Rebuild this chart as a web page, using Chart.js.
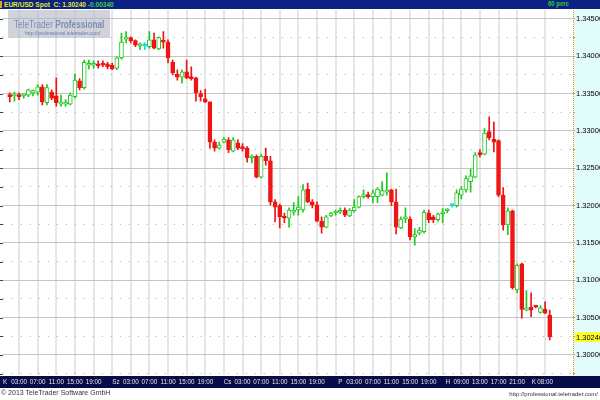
<!DOCTYPE html>
<html>
<head>
<meta charset="utf-8">
<script src="https://cdn.jsdelivr.net/npm/chart.js@4.4.1/dist/chart.umd.min.js"></script>
<style>
  html, body { margin: 0; padding: 0; background: #fff; }
  #wrap { position: relative; width: 600px; height: 400px; overflow: hidden; font-family: 'Liberation Sans', Arial, sans-serif; }
  #chart { position: absolute; left: 0; top: 0; }
  #topbar { position: absolute; left: 0; top: 0; width: 600px; height: 9px; background: #0b2282; z-index: 2; }
  #topbar .mark { position: absolute; left: 0; top: 1px; width: 2px; height: 7px; background: #e8a020; }
  #topbar .title { position: absolute; left: 4px; top: 0; line-height: 9px; font: bold 8px 'Liberation Sans', sans-serif; color: #e6e61e; white-space: nowrap; transform: scaleX(0.82); transform-origin: left top; }
  #topbar .chg { color: #3ed23e; }
  #topbar .period { position: absolute; left: 548px; top: 0; line-height: 9px; font: bold 7px 'Liberation Sans', sans-serif; color: #30d030; white-space: nowrap; transform: scaleX(0.85); transform-origin: left top; }
  #logo { position: absolute; left: 8px; top: 10px; width: 102px; height: 28px; background: rgba(176, 182, 196, 0.6); z-index: 2; }
  #logo .name { position: absolute; left: 6px; top: 9px; font: 10px 'Liberation Sans', sans-serif; color: #7d8bb4; line-height: 11px; white-space: nowrap; transform: scaleX(0.82); transform-origin: left top; }
  #logo .name b { font-weight: bold; }
  #logo .url { position: absolute; left: 17px; top: 20px; font: 6px 'Liberation Sans', sans-serif; color: #6a78a6; line-height: 7px; white-space: nowrap; transform: scaleX(0.85); transform-origin: left top; }
  #copy { position: absolute; left: 1px; top: 389px; font: 7px 'Liberation Sans', sans-serif; color: #333; white-space: nowrap; }
  #site { position: absolute; right: 2px; top: 391px; font: 6px 'Liberation Sans', sans-serif; color: #333; white-space: nowrap; }
</style>
</head>
<body>
<div id="wrap">
  <canvas id="chart" width="600" height="400"></canvas>
  <div id="topbar"><div class="mark"></div><div class="title">EUR/USD Spot &nbsp;C: 1.30240 <span class="chg">-0.00340</span></div><div class="period">60 perc</div></div>
  <div id="logo"><div class="name">TeleTrader <b>Professional</b></div><div class="url">http://professional.teletrader.com/</div></div>
  <div id="copy">© 2013 TeleTrader Software GmbH</div>
  <div id="site">http://professional.teletrader.com/</div>
</div>
<script>
// EUR/USD 60 perces gyertyák (open, high, low, close)
const open = [
  1.3348, 1.3347, 1.3348, 1.3347, 1.3348, 1.3351, 1.3352, 1.3359, 1.3338, 1.3352,
  1.3347, 1.3336, 1.3336, 1.3336, 1.3346, 1.3367, 1.3358, 1.3388, 1.3388, 1.3390,
  1.3390, 1.3390, 1.3388, 1.3384, 1.3398, 1.3423, 1.3425, 1.3421, 1.3414, 1.3414,
  1.3413, 1.3422, 1.3410, 1.3421, 1.3419, 1.3392, 1.3376, 1.3372, 1.3379, 1.3372,
  1.3371, 1.3350, 1.3343, 1.3339, 1.3285, 1.3277, 1.3285, 1.3288, 1.3273, 1.3284,
  1.3279, 1.3277, 1.3264, 1.3266, 1.3238, 1.3266, 1.3260, 1.3205, 1.3200, 1.3186,
  1.3183, 1.3191, 1.3194, 1.3194, 1.3222, 1.3205, 1.3201, 1.3179, 1.3171, 1.3186,
  1.3190, 1.3191, 1.3194, 1.3186, 1.3193, 1.3198, 1.3212, 1.3214, 1.3212, 1.3212,
  1.3214, 1.3218, 1.3221, 1.3205, 1.3170, 1.3182, 1.3182, 1.3158, 1.3163, 1.3165,
  1.3190, 1.3185, 1.3181, 1.3189, 1.3193, 1.3200, 1.3200, 1.3214, 1.3221, 1.3232,
  1.3238, 1.3271, 1.3269, 1.3299, 1.3289, 1.3287, 1.3214, 1.3174, 1.3193, 1.3087,
  1.3122, 1.3060, 1.3064, 1.3065, 1.3057, 1.3061, 1.3053
];
const high = [
  1.3351, 1.3352, 1.3351, 1.3350, 1.3356, 1.3355, 1.3362, 1.3362, 1.3362, 1.3355,
  1.3371, 1.3348, 1.3342, 1.3351, 1.3376, 1.3370, 1.3395, 1.3395, 1.3394, 1.3394,
  1.3394, 1.3392, 1.3391, 1.3399, 1.3431, 1.3433, 1.3426, 1.3422, 1.3418, 1.3418,
  1.3433, 1.3431, 1.3426, 1.3433, 1.3422, 1.3395, 1.3382, 1.3382, 1.3395, 1.3386,
  1.3372, 1.3354, 1.3356, 1.3339, 1.3288, 1.3285, 1.3291, 1.3291, 1.3291, 1.3288,
  1.3283, 1.3279, 1.3268, 1.3268, 1.3269, 1.3277, 1.3266, 1.3208, 1.3202, 1.3190,
  1.3197, 1.3204, 1.3212, 1.3228, 1.3230, 1.3208, 1.3205, 1.3185, 1.3187, 1.3191,
  1.3194, 1.3197, 1.3197, 1.3196, 1.3208, 1.3213, 1.3221, 1.3218, 1.3221, 1.3224,
  1.3232, 1.3244, 1.3222, 1.3222, 1.3185, 1.3197, 1.3185, 1.3169, 1.3171, 1.3194,
  1.3194, 1.3187, 1.3190, 1.3196, 1.3196, 1.3201, 1.3221, 1.3225, 1.3240, 1.3249,
  1.3271, 1.3275, 1.3303, 1.3319, 1.3312, 1.3288, 1.3224, 1.3197, 1.3194, 1.3122,
  1.3123, 1.3086, 1.3083, 1.3066, 1.3066, 1.3071, 1.3060
];
const low = [
  1.3339, 1.3340, 1.3342, 1.3344, 1.3346, 1.3347, 1.3348, 1.3335, 1.3335, 1.3342,
  1.3333, 1.3333, 1.3333, 1.3335, 1.3344, 1.3355, 1.3356, 1.3383, 1.3384, 1.3384,
  1.3386, 1.3383, 1.3382, 1.3382, 1.3396, 1.3418, 1.3418, 1.3413, 1.3409, 1.3409,
  1.3411, 1.3410, 1.3409, 1.3411, 1.3391, 1.3375, 1.3368, 1.3364, 1.3370, 1.3368,
  1.3340, 1.3340, 1.3338, 1.3277, 1.3273, 1.3276, 1.3284, 1.3271, 1.3272, 1.3275,
  1.3273, 1.3258, 1.3257, 1.3237, 1.3237, 1.3254, 1.3201, 1.3178, 1.3170, 1.3177,
  1.3171, 1.3187, 1.3187, 1.3191, 1.3204, 1.3197, 1.3178, 1.3163, 1.3170, 1.3185,
  1.3187, 1.3189, 1.3185, 1.3185, 1.3191, 1.3197, 1.3210, 1.3210, 1.3204, 1.3204,
  1.3213, 1.3214, 1.3200, 1.3162, 1.3169, 1.3177, 1.3154, 1.3147, 1.3161, 1.3163,
  1.3177, 1.3177, 1.3179, 1.3177, 1.3190, 1.3198, 1.3198, 1.3209, 1.3218, 1.3218,
  1.3237, 1.3265, 1.3268, 1.3288, 1.3272, 1.3212, 1.3167, 1.3161, 1.3088, 1.3083,
  1.3049, 1.3059, 1.3051, 1.3063, 1.3056, 1.3055, 1.3020
];
const close = [
  1.3346, 1.3348, 1.3346, 1.3348, 1.3355, 1.3354, 1.3359, 1.3339, 1.3358, 1.3344,
  1.3338, 1.3339, 1.3338, 1.3348, 1.3368, 1.3358, 1.3392, 1.3390, 1.3390, 1.3387,
  1.3388, 1.3386, 1.3383, 1.3398, 1.3419, 1.3425, 1.3421, 1.3415, 1.3415, 1.3414,
  1.3422, 1.3411, 1.3425, 1.3419, 1.3398, 1.3378, 1.3372, 1.3379, 1.3371, 1.3370,
  1.3351, 1.3346, 1.3339, 1.3285, 1.3277, 1.3281, 1.3289, 1.3275, 1.3288, 1.3277,
  1.3276, 1.3264, 1.3266, 1.3238, 1.3266, 1.3260, 1.3205, 1.3198, 1.3185, 1.3183,
  1.3194, 1.3194, 1.3198, 1.3221, 1.3205, 1.3201, 1.3179, 1.3171, 1.3185, 1.3190,
  1.3191, 1.3193, 1.3187, 1.3194, 1.3198, 1.3212, 1.3214, 1.3212, 1.3217, 1.3222,
  1.3220, 1.3220, 1.3205, 1.3171, 1.3182, 1.3185, 1.3158, 1.3161, 1.3167, 1.3191,
  1.3181, 1.3181, 1.3189, 1.3191, 1.3194, 1.3200, 1.3217, 1.3222, 1.3236, 1.3240,
  1.3268, 1.3268, 1.3297, 1.3291, 1.3285, 1.3214, 1.3174, 1.3193, 1.3090, 1.3120,
  1.3061, 1.3063, 1.3060, 1.3064, 1.3063, 1.3056, 1.3024
];

// időtengely: napok (K, Sz, Cs, P, H, K) és órák, gyertya-sorszám szerint
const dayLabels = ['K', 'Sz', 'Cs', 'P', 'H', 'K'];
const dayIndex = [-1, 22.8, 46.8, 71, 94.1, 112.6];
const hourLabels = [
  '03:00', '07:00', '11:00', '15:00', '19:00',
  '03:00', '07:00', '11:00', '15:00', '19:00',
  '03:00', '07:00', '11:00', '15:00', '19:00',
  '03:00', '07:00', '11:00', '15:00', '19:00',
  '09:00', '13:00', '17:00', '21:00',
  '08:00'
];
const hourIndex = [
  2, 6, 10, 14, 18,
  26, 30, 34, 38, 42,
  50, 54, 58, 62, 66,
  74, 78, 82, 86, 90,
  97, 101, 105, 109,
  115
];
const extraGridIndex = [22, 46, 70, 93];

// ártengely
const priceTicks = [1.300, 1.305, 1.310, 1.315, 1.320, 1.325, 1.330, 1.335, 1.340, 1.345];
const halfTicks = [1.2975, 1.3025, 1.3075, 1.3125, 1.3175, 1.3225, 1.3275, 1.3325, 1.3375, 1.3425];

const GREEN = '#1ec81e';
const RED = '#f01414';
const CYAN = '#12dcdc';

function candleColor(i) {
    if (i === undefined) return GREEN;
    if (close[i] > open[i]) return GREEN;
    if (close[i] < open[i]) return RED;
    return CYAN;
}

const xLabel = {};
const xGrid = new Set(hourIndex.concat(extraGridIndex));
dayIndex.forEach((v, i) => { xLabel[v] = dayLabels[i]; });
hourIndex.forEach((v, i) => { xLabel[v] = hourLabels[i]; });
const xTicks = Array.from(new Set(dayIndex.concat(hourIndex, extraGridIndex))).sort((a, b) => a - b);
const yTicks = priceTicks.concat(halfTicks).sort((a, b) => a - b);
const isMajor = v => v !== undefined && Math.abs(v * 200 - Math.round(v * 200)) < 1e-6;

const bodies = open.map((o, i) => ({ x: i, y: [o, close[i]] }));
const wicks = low.map((l, i) => ({ x: i, y: [l, high[i]] }));

// keret: kék sávok, tengely háttér, utolsó ár
const frame = {
    id: 'frame',
    beforeDraw(chart) {
        const { ctx, chartArea: a, scales: { x, y } } = chart;
        ctx.save();
        ctx.fillStyle = '#ffffff';
        ctx.fillRect(0, 0, chart.width, chart.height);
        ctx.fillStyle = '#e2fbfb';
        ctx.fillRect(y.left, a.top, chart.width - y.left, a.bottom - a.top + 1);
        ctx.fillStyle = '#070b46';
        ctx.fillRect(0, x.top + 1, chart.width, x.bottom - x.top);
        ctx.restore();
    },
    afterDraw(chart) {
        const { ctx, chartArea: a, scales: { y } } = chart;
        ctx.save();
        // szaggatott narancs tengelyvonal
        ctx.strokeStyle = '#d89a00';
        ctx.lineWidth = 1;
        ctx.setLineDash([1, 1]);
        ctx.beginPath();
        ctx.moveTo(y.left + 0.5, a.top);
        ctx.lineTo(y.left + 0.5, a.bottom + 1);
        ctx.stroke();
        // bal oldali kis jelek
        ctx.setLineDash([]);
        ctx.strokeStyle = '#444';
        yTicks.forEach(v => {
            const py = Math.round(y.getPixelForValue(v)) + 0.5;
            ctx.beginPath();
            ctx.moveTo(0, py);
            ctx.lineTo(3, py);
            ctx.stroke();
        });
        // utolsó ár címke
        const last = close[close.length - 1];
        const py = Math.round(y.getPixelForValue(last));
        ctx.fillStyle = '#ffff2e';
        ctx.fillRect(y.left + 2, py - 5, chart.width - y.left - 2, 10);
        ctx.fillStyle = '#000';
        ctx.font = "7.5px 'Liberation Sans', Arial, sans-serif";
        ctx.textBaseline = 'middle';
        ctx.fillText(last.toFixed(5), y.left + 3, py + 0.5);
        ctx.restore();
    }
};

function createChart() {
    new Chart(document.getElementById('chart'), {
        type: 'bar',
        data: {
            datasets: [
                {
                    label: 'Gyertyatest',
                    data: bodies,
                    grouped: false,
                    barThickness: 4,
                    minBarLength: 2,
                    borderWidth: 1,
                    borderSkipped: false,
                    backgroundColor: c => close[c.dataIndex] > open[c.dataIndex] ? '#ffffff' : candleColor(c.dataIndex),
                    borderColor: c => candleColor(c.dataIndex)
                },
                {
                    label: 'Kanóc',
                    data: wicks,
                    grouped: false,
                    barThickness: 1,
                    borderWidth: 0,
                    backgroundColor: c => candleColor(c.dataIndex)
                }
            ]
        },
        options: {
            responsive: false,
            animation: false,
            layout: { padding: { top: 10, bottom: 13, left: 0, right: 0 } },
            plugins: {
                legend: { display: false },
                tooltip: { enabled: false }
            },
            scales: {
                x: {
                    type: 'linear',
                    min: -1.5,
                    max: 121,
                    offset: false,
                    afterBuildTicks: s => { s.ticks = xTicks.map(v => ({ value: v })); },
                    afterFit: s => { s.height = 12; },
                    grid: {
                        offset: false,
                        drawTicks: false,
                        lineWidth: 2,
                        color: c => (c.tick && xGrid.has(c.tick.value)) ? '#e6e6e6' : 'rgba(0,0,0,0)'
                    },
                    border: { display: false },
                    ticks: {
                        autoSkip: false,
                        maxRotation: 0,
                        padding: 3,
                        color: '#e6e6ee',
                        font: { family: "'Liberation Sans', Arial, sans-serif", size: 6.3 },
                        callback: v => xLabel[v] !== undefined ? xLabel[v] : ''
                    }
                },
                y: {
                    position: 'right',
                    min: 1.2973,
                    max: 1.3462,
                    afterBuildTicks: s => { s.ticks = yTicks.map(v => ({ value: v })); },
                    afterFit: s => { s.width = 27; },
                    grid: {
                        lineWidth: 1,
                        tickLength: 2,
                        tickColor: '#d89a00',
                        color: c => (c.tick && isMajor(c.tick.value)) ? '#c4c4c4' : '#a9a9a9'
                    },
                    border: {
                        display: false,
                        dash: c => (c.tick && isMajor(c.tick.value)) ? [] : [1, 8]
                    },
                    ticks: {
                        padding: 1,
                        color: '#000',
                        font: { family: "'Liberation Sans', Arial, sans-serif", size: 7.5 },
                        callback: v => isMajor(v) ? v.toFixed(5) : ''
                    }
                }
            }
        },
        plugins: [frame]
    });
}

window.onload = createChart;
</script>
</body>
</html>
